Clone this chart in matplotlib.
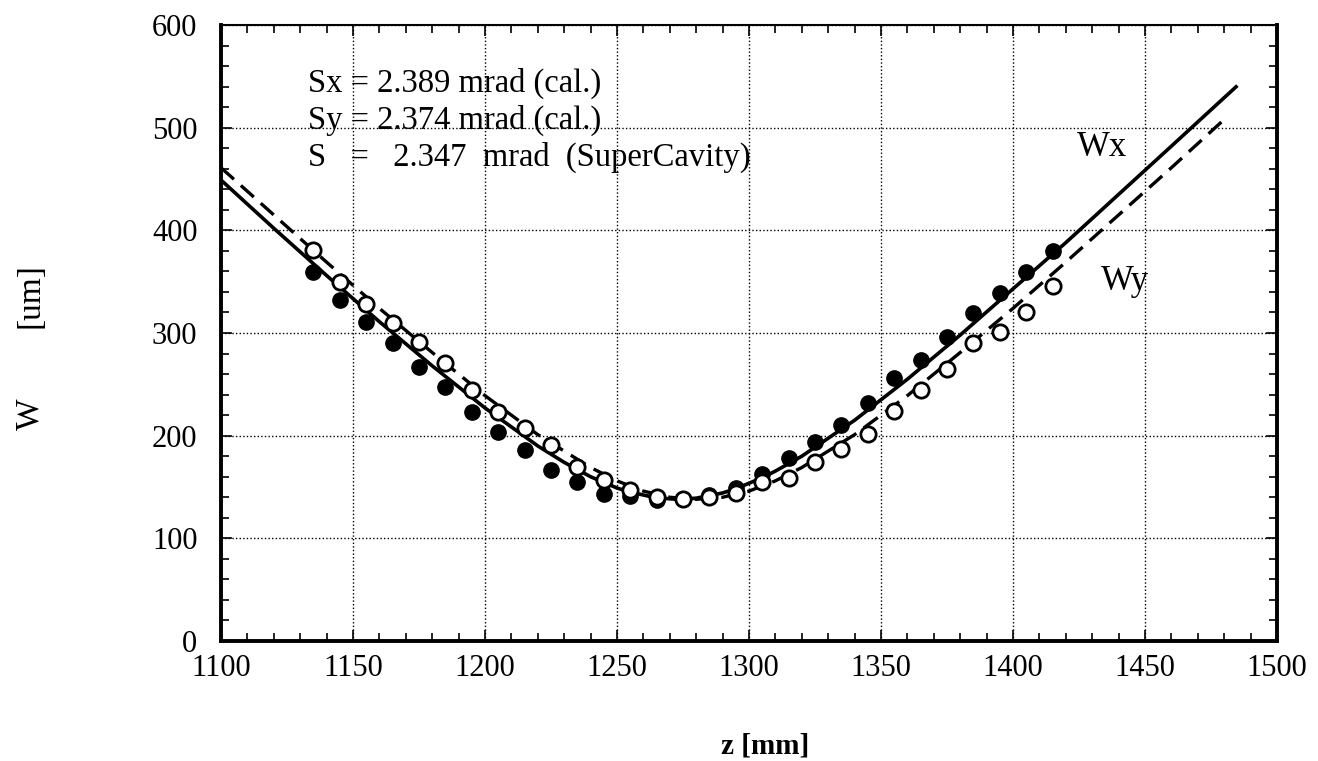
import matplotlib
matplotlib.use("Agg")
import matplotlib.pyplot as plt
from matplotlib.ticker import MultipleLocator

plt.rcParams['font.family'] = ['Liberation Serif', 'DejaVu Serif']

# measured points (z in mm, W in um)
z_pts = [1135, 1145, 1155, 1165, 1175, 1185, 1195, 1205, 1215, 1225, 1235, 1245,
         1255, 1265, 1275, 1285, 1295, 1305, 1315, 1325, 1335, 1345, 1355, 1365,
         1375, 1385, 1395, 1405, 1415]
wx_pts = [359, 332, 311, 290, 267, 247, 223, 204, 186, 167, 155, 143,
          141, 137, 138, 142, 149, 163, 178, 194, 210, 232, 256, 274,
          296, 319, 339, 359, 380]
wy_pts = [381, 350, 328, 310, 291, 271, 244, 223, 207, 191, 169, 157,
          147, 140, 138, 140, 144, 155, 159, 174, 187, 202, 224, 244,
          265, 290, 301, 320, 346]

# fitted curves
z_fit_x = [1100, 1120, 1140, 1160, 1180, 1200, 1220, 1230, 1240, 1250, 1255, 1265,
           1273, 1280, 1290, 1295, 1305, 1310, 1320, 1340, 1360, 1380, 1400,
           1420, 1440, 1460, 1485]
w_fit_x = [449, 402, 356, 311, 268, 227, 190, 174, 160, 149, 145, 139.4,
           138, 139.1, 144.2, 148.3, 159, 165.5, 180, 215, 255, 298, 343,
           388, 435, 482, 541]
z_fit_y = [1100, 1120, 1140, 1160, 1180, 1200, 1220, 1240, 1250, 1260, 1270, 1280,
           1290, 1300, 1310, 1320, 1340, 1360, 1380, 1400, 1420, 1440, 1460, 1480]
w_fit_y = [461, 415, 369, 324, 281, 239, 201, 169, 156, 146, 140, 138,
           140, 146, 156, 169, 201, 239, 281, 324, 369, 415, 461, 508]

annot_lines = ["Sx = 2.389 mrad (cal.)",
               "Sy = 2.374 mrad (cal.)",
               "S   =   2.347  mrad  (SuperCavity)"]

fig = plt.figure(figsize=(13.18, 7.61), dpi=100)
ax = fig.add_axes([221/1318, 1-641/761, (1277-221)/1318, (641-25)/761])

ax.plot(z_fit_x, w_fit_x, color='black', lw=2.6, solid_capstyle='butt', zorder=3)
ax.plot(z_fit_y, w_fit_y, color='black', lw=2.4, dashes=(5.2, 2.8), zorder=3)
ax.plot(z_pts, wx_pts, 'o', color='black', ms=11, zorder=4)
ax.plot(z_pts, wy_pts, 'o', mfc='white', mec='black', mew=2.0, ms=11, zorder=5)

ax.set_xlim(1100, 1500)
ax.set_ylim(0, 600)
ax.xaxis.set_major_locator(MultipleLocator(50))
ax.xaxis.set_minor_locator(MultipleLocator(10))
ax.yaxis.set_major_locator(MultipleLocator(100))
ax.yaxis.set_minor_locator(MultipleLocator(20))
ax.grid(True, which='major', color='black', linestyle=(0, (1, 1.6)), linewidth=1.0)
ax.tick_params(which='both', direction='in', top=True, right=True, labelsize=22,
               color='black')
ax.tick_params(which='major', length=8, width=1.2)
ax.tick_params(which='minor', length=6, width=1.2)
ax.tick_params(axis='y', pad=17)
ax.tick_params(axis='x', pad=9)
for s in ['left', 'bottom', 'right']:
    ax.spines[s].set_linewidth(2.8)
ax.spines['top'].set_linewidth(1.5)

for i, t in enumerate(annot_lines):
    ax.text(308/1318, 1 - (83 + 37*i)/761, t, transform=fig.transFigure,
            fontsize=23.5, va='center', ha='left')

ax.text(1077/1318, 1 - 148/761, "Wx", transform=fig.transFigure, fontsize=25,
        va='center', ha='left')
ax.text(1101/1318, 1 - 281/761, "Wy", transform=fig.transFigure, fontsize=25,
        va='center', ha='left')

fig.text(30/1318, 1 - 414/761, "W", rotation=90, fontsize=24, va='center', ha='center')
fig.text(30/1318, 1 - 296/761, "[um]", rotation=90, fontsize=24, va='center', ha='center')
fig.text(765/1318, 1 - 746/761, "z [mm]", fontsize=21, fontweight='bold',
         va='center', ha='center')

fig.savefig("out.png", dpi=100)
